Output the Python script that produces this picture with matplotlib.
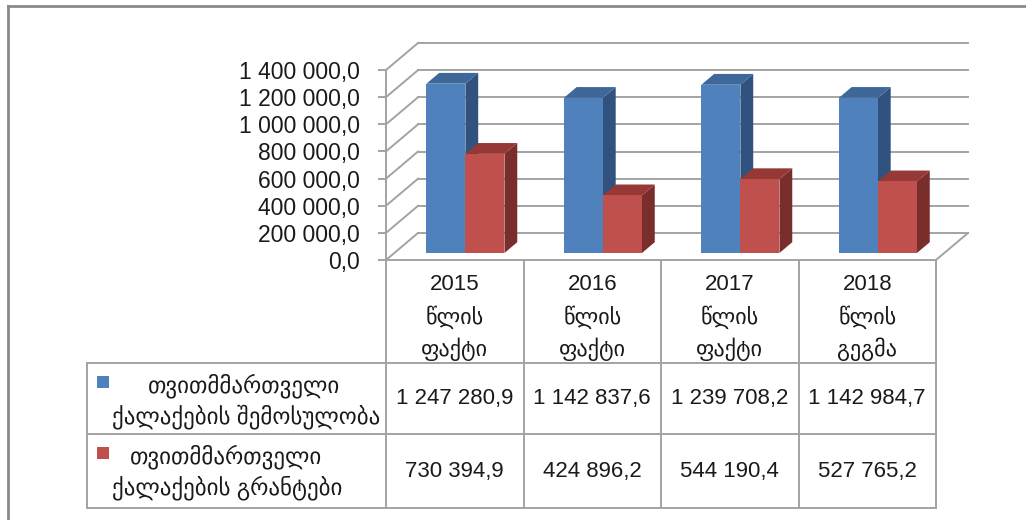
import matplotlib
matplotlib.use("Agg")
import matplotlib.pyplot as plt
from matplotlib.patches import Polygon, Rectangle
from matplotlib.lines import Line2D
from matplotlib.ticker import FuncFormatter

# ---------------------------------------------------------
# data
# ---------------------------------------------------------
years = ["2015", "2016", "2017", "2018"]
year_word = "წლის"
year_kind = ["ფაქტი", "ფაქტი", "ფაქტი", "გეგმა"]

series_line1 = ["თვითმმართველი", "თვითმმართველი"]
series_line2 = ["ქალაქების შემოსულობა", "ქალაქების გრანტები"]

revenue = [1247280.9, 1142837.6, 1239708.2, 1142984.7]
grants = [730394.9, 424896.2, 544190.4, 527765.2]

y_ticks = [0, 200000, 400000, 600000, 800000, 1000000, 1200000, 1400000]

# ---------------------------------------------------------
# style
# ---------------------------------------------------------
FONT = ["Liberation Sans", "DejaVu Sans"]
plt.rcParams["font.family"] = FONT
grid_col = "#a3a3a3"
front_col = ["#4f81bd", "#c0504d"]
top_col = ["#3d6899", "#953836"]
side_col = ["#31527e", "#7a2e2c"]


def fmt(v):
    return "{:,.1f}".format(v).replace(",", " ").replace(".", ",")


W, H = 1026, 520
fig = plt.figure(figsize=(W / 100, H / 100), dpi=100)

# front plane of the 3d chart
ax = fig.add_axes([386 / W, 1 - 260 / H, 550 / W, 190 / H])
ax.set_xlim(0, 4)
ax.set_ylim(0, 1400000)
ax.set_xticks([])
ax.set_yticks(y_ticks)
ax.yaxis.set_major_formatter(FuncFormatter(lambda v, p: fmt(v)))
ax.tick_params(axis="y", length=6, width=1.4, color=grid_col, pad=13,
               labelsize=16.5, labelcolor="#1a1a1a")
for s in ["top", "right"]:
    ax.spines[s].set_visible(False)
for s in ["left", "bottom"]:
    ax.spines[s].set_color(grid_col)
    ax.spines[s].set_linewidth(1.4)
ax.patch.set_alpha(0)

# overlay in image pixel coords
axT = fig.add_axes([0, 0, 1, 1])
axT.set_xlim(0, W)
axT.set_ylim(H, 0)
axT.axis("off")
axT.patch.set_alpha(0)

DX, DY = 32, 27  # depth of the 3d box in pixels


def proj(x, v, d):
    # data point on the front plane pushed back by depth fraction d
    px, py = ax.transData.transform((x, v))
    return px + DX * d, H - (py + DY * d)


def line3d(p0, p1):
    a, b = proj(*p0), proj(*p1)
    axT.add_line(Line2D([a[0], b[0]], [a[1], b[1]], color=grid_col,
                        lw=1.4, zorder=1))


# walls and floor
for v in y_ticks:
    line3d((0, v, 0), (0, v, 1))
    line3d((0, v, 1), (4, v, 1))
line3d((4, 0, 0), (4, 0, 1))

# bars
bar_w = 0.284
d0, d1 = 0.26, 0.66
for i in range(len(years)):
    for s, vals in enumerate([revenue, grants]):
        xl = i + 0.233 + s * bar_w
        xr = xl + bar_w
        v = vals[i]
        side = [proj(xr, 0, d0), proj(xr, v, d0), proj(xr, v, d1), proj(xr, 0, d1)]
        top = [proj(xl, v, d0), proj(xr, v, d0), proj(xr, v, d1), proj(xl, v, d1)]
        front = [proj(xl, 0, d0), proj(xr, 0, d0), proj(xr, v, d0), proj(xl, v, d0)]
        axT.add_patch(Polygon(side, closed=True, fc=side_col[s], ec="none", zorder=3))
        axT.add_patch(Polygon(top, closed=True, fc=top_col[s], ec="none", zorder=3))
        axT.add_patch(Polygon(front, closed=True, fc=front_col[s], ec="none", zorder=3))

# ---------------------------------------------------------
# data table
# ---------------------------------------------------------
col_x = [proj(i, 0, 0)[0] for i in range(5)]
y_floor = proj(0, 0, 0)[1]
row_y = [363, 434, 508]
tbl_left = 87
for x in col_x:
    axT.add_line(Line2D([x, x], [y_floor, row_y[-1]], color=grid_col, lw=1.4, zorder=2))
axT.add_line(Line2D([tbl_left, tbl_left], [row_y[0], row_y[-1]], color=grid_col, lw=1.4))
for y in row_y:
    axT.add_line(Line2D([tbl_left, col_x[-1]], [y, y], color=grid_col, lw=1.4))

txt = dict(ha="center", va="center", color="#1a1a1a", family=FONT)
for i in range(len(years)):
    cx = (col_x[i] + col_x[i + 1]) / 2
    axT.text(cx, 285, years[i], fontsize=16, **txt)
    axT.text(cx, 317, year_word, fontsize=16, **txt)
    axT.text(cx, 349, year_kind[i], fontsize=16, **txt)
    for r, vals in enumerate([revenue, grants]):
        axT.text(cx, (row_y[r] + row_y[r + 1]) / 2, fmt(vals[i]),
                 fontsize=16, **txt)

# row headers with legend keys
for r in range(2):
    ytop = row_y[r]
    axT.add_patch(Rectangle((97, ytop + 13), 12, 12, fc=front_col[r], ec="none"))
    axT.text(148 - 18 * r, ytop + 23, series_line1[r], fontsize=16.5, ha="left",
             va="center", color="#1a1a1a", family=FONT)
    axT.text(112, ytop + 54, series_line2[r], fontsize=16.5, ha="left",
             va="center", color="#1a1a1a", family=FONT)

# outer chart border
axT.add_line(Line2D([8, W], [6, 6], color="#8a8a8a", lw=2))
axT.add_line(Line2D([8, 8], [6, H], color="#8a8a8a", lw=2))

fig.savefig("out.png", dpi=100)
